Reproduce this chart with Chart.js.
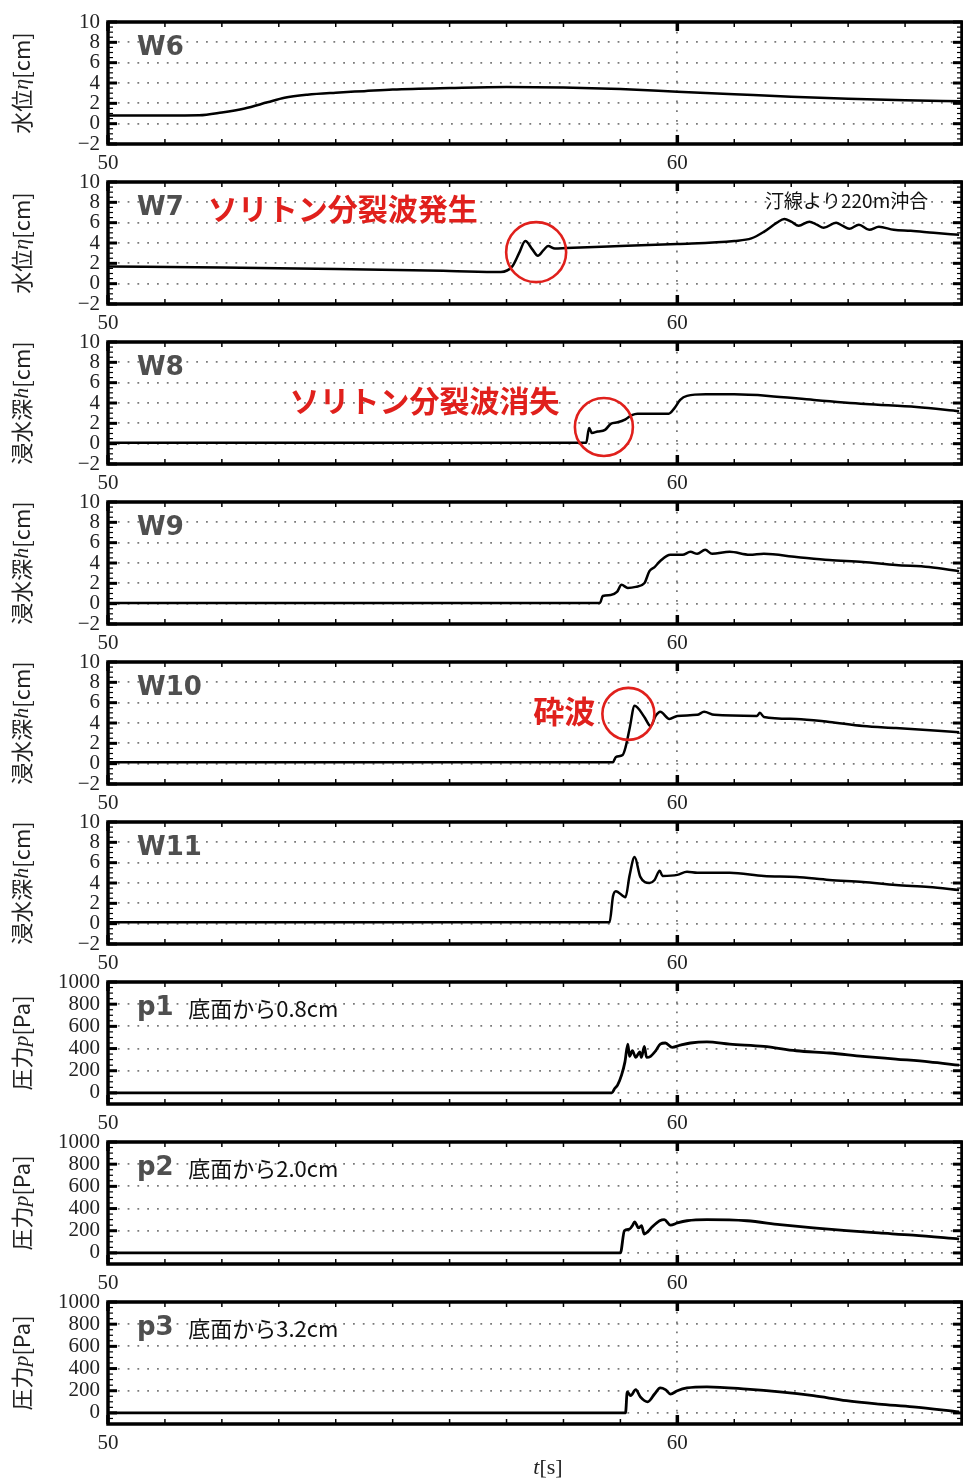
<!DOCTYPE html>
<html>
<head>
<meta charset="utf-8">
<script src="https://cdn.jsdelivr.net/npm/chart.js@4.4.1/dist/chart.umd.min.js"></script>
<style>
  body { margin: 0; background: #fff; width: 963px; height: 1484px; position: relative; overflow: hidden; }
  .panel { position: absolute; left: 0; }
</style>
</head>
<body>
<script>
// time axis [s]
const xTickLabels = [50, 60];
const levelTicks = [-2, 0, 2, 4, 6, 8, 10];
const pressureTicks = [0, 200, 400, 600, 800, 1000];

// water level / inundation depth [cm]
const w6Time = [50, 51, 51.6, 52, 52.4, 52.8, 53.1, 53.5, 54, 54.5, 55, 56, 57, 58, 59, 60, 61, 62, 63, 64, 65];
const w6Level = [0.8, 0.8, 0.82, 1.1, 1.5, 2.1, 2.55, 2.85, 3.05, 3.2, 3.35, 3.5, 3.6, 3.55, 3.4, 3.15, 2.9, 2.65, 2.45, 2.3, 2.2];

const w7Time = [50, 52, 54, 56, 56.9, 57.1, 57.22, 57.33, 57.45, 57.55, 57.65, 57.73, 57.85, 58.05, 59, 60, 61, 61.3, 61.52, 61.75, 61.88, 62.0, 62.13, 62.32, 62.45, 62.57, 62.79, 62.9, 63.02, 63.19, 63.37, 63.54, 63.8, 64.1, 64.5, 64.95];
const w7Level = [1.7, 1.6, 1.45, 1.25, 1.15, 1.7, 3.0, 4.2, 3.4, 2.75, 3.3, 3.7, 3.45, 3.5, 3.7, 3.9, 4.2, 4.45, 5.1, 6.0, 6.35, 6.1, 5.7, 6.1, 5.8, 5.5, 6.0, 5.7, 5.4, 5.8, 5.3, 5.6, 5.3, 5.2, 5.0, 4.8];

const w8Time = [50, 58.4, 58.45, 58.5, 58.6, 58.73, 58.83, 58.95, 59.09, 59.2, 59.3, 59.5, 59.85, 59.95, 60.05, 60.17, 60.5, 61, 61.6, 62.4, 63.3, 64.2, 64.95];
const w8Depth = [0.1, 0.1, 1.55, 1.05, 1.2, 1.35, 1.95, 2.1, 2.4, 2.8, 2.95, 2.95, 2.95, 3.5, 4.3, 4.7, 4.85, 4.85, 4.7, 4.3, 3.9, 3.6, 3.2];

const w9Time = [50, 58.64, 58.69, 58.83, 58.94, 59.02, 59.13, 59.27, 59.42, 59.51, 59.6, 59.7, 59.88, 60.09, 60.23, 60.35, 60.49, 60.61, 60.92, 61.27, 61.52, 62.09, 62.67, 63.26, 63.84, 64.42, 64.95];
const w9Depth = [0.07, 0.07, 0.75, 0.85, 1.15, 1.85, 1.55, 1.65, 2.0, 3.2, 3.6, 4.2, 4.8, 4.8, 5.1, 4.9, 5.3, 4.9, 5.1, 4.8, 4.9, 4.6, 4.3, 4.1, 3.8, 3.6, 3.2];

const w10Time = [50, 58.87, 58.92, 59.04, 59.09, 59.16, 59.25, 59.42, 59.53, 59.62, 59.7, 59.86, 60, 60.35, 60.47, 60.65, 61.4, 61.45, 61.52, 62.09, 62.67, 63.26, 63.84, 64.95];
const w10Depth = [0.15, 0.15, 0.65, 0.85, 1.6, 3.4, 5.7, 4.6, 3.7, 4.7, 5.1, 4.4, 4.7, 4.8, 5.1, 4.8, 4.7, 5.0, 4.6, 4.4, 4.1, 3.7, 3.5, 3.1];

const w11Time = [50, 58.81, 58.87, 58.92, 59.09, 59.16, 59.25, 59.35, 59.51, 59.6, 59.69, 59.74, 60, 60.17, 60.35, 60.92, 61.52, 62.09, 62.67, 63.26, 63.84, 64.42, 64.95];
const w11Depth = [0.15, 0.15, 2.7, 3.2, 2.6, 4.7, 6.55, 4.6, 4.0, 4.3, 5.2, 4.7, 4.8, 5.1, 5.0, 5.0, 4.7, 4.6, 4.3, 4.1, 3.8, 3.6, 3.3];

// pressure [Pa]
const p1Time = [50, 58.85, 58.9, 58.95, 59.02, 59.08, 59.13, 59.16, 59.21, 59.27, 59.34, 59.37, 59.42, 59.46, 59.53, 59.62, 59.7, 59.79, 59.91, 60.05, 60.23, 60.52, 60.92, 61.52, 62.09, 62.67, 63.26, 63.84, 64.42, 64.95];
const p1Pressure = [0, 0, 40, 70, 160, 280, 440, 330, 380, 320, 370, 320, 420, 320, 330, 380, 440, 450, 410, 430, 450, 460, 440, 420, 380, 360, 330, 305, 280, 250];

const p2Time = [50, 59.0, 59.07, 59.16, 59.21, 59.25, 59.32, 59.37, 59.42, 59.48, 59.56, 59.69, 59.77, 59.88, 60, 60.17, 60.52, 61.22, 61.8, 62.39, 62.97, 63.54, 64.14, 64.95];
const p2Pressure = [0, 0, 200, 215, 245, 280, 225, 245, 170, 190, 235, 290, 300, 250, 270, 290, 300, 290, 255, 225, 200, 180, 160, 125];

const p3Time = [50, 59.09, 59.12, 59.18, 59.27, 59.35, 59.48, 59.6, 59.7, 59.79, 59.88, 60, 60.17, 60.52, 61.22, 61.8, 62.39, 62.97, 63.54, 64.14, 64.95];
const p3Pressure = [0, 0, 190, 155, 210, 145, 100, 170, 225, 210, 170, 200, 225, 235, 215, 190, 155, 110, 80, 55, 10];

const jp = '"Noto Sans CJK JP", sans-serif';
const serif = '"Liberation Serif", "DejaVu Serif", serif';
const red = '#e0201c';

const levelTitle = [['水位', '22px ' + jp], ['η', 'italic 22px ' + serif], ['[cm]', '22px ' + jp]];
const depthTitle = [['浸水深', '22px ' + jp], ['h', 'italic 22px ' + serif], ['[cm]', '22px ' + jp]];
const pressTitle = [['圧力', '22px ' + jp], ['p', 'italic 22px ' + serif], ['[Pa]', '22px ' + jp]];

const panels = [
  { name: 'W6', time: w6Time, values: w6Level, kind: 'level', title: levelTitle, notes: [] },
  { name: 'W7', time: w7Time, values: w7Level, kind: 'level', title: levelTitle, notes: [
    { text: 'ソリトン分裂波発生', t: 51.75, v: 7.35, font: 'bold 30px ' + jp, color: red },
    { text: '汀線より220m沖合', t: 61.54, v: 8.2, font: '19px ' + jp, color: '#111' },
    { circle: true, t: 57.52, v: 3.1, r: 30 }
  ] },
  { name: 'W8', time: w8Time, values: w8Depth, kind: 'level', title: depthTitle, notes: [
    { text: 'ソリトン分裂波消失', t: 53.19, v: 4.2, font: 'bold 30px ' + jp, color: red },
    { circle: true, t: 58.71, v: 1.64, r: 29 }
  ] },
  { name: 'W9', time: w9Time, values: w9Depth, kind: 'level', title: depthTitle, notes: [] },
  { name: 'W10', time: w10Time, values: w10Depth, kind: 'level', title: depthTitle, notes: [
    { text: '砕波', t: 57.47, v: 5.2, font: 'bold 31px ' + jp, color: red },
    { circle: true, t: 59.14, v: 4.9, r: 26 }
  ] },
  { name: 'W11', time: w11Time, values: w11Depth, kind: 'level', title: depthTitle, notes: [] },
  { name: 'p1', time: p1Time, values: p1Pressure, kind: 'pressure', title: pressTitle, notes: [
    { text: '底面から0.8cm', t: 51.41, v: 757, font: '22px ' + jp, color: '#111' }
  ] },
  { name: 'p2', time: p2Time, values: p2Pressure, kind: 'pressure', title: pressTitle, notes: [
    { text: '底面から2.0cm', t: 51.41, v: 757, font: '22px ' + jp, color: '#111' }
  ] },
  { name: 'p3', time: p3Time, values: p3Pressure, kind: 'pressure', title: pressTitle, notes: [
    { text: '底面から3.2cm', t: 51.41, v: 757, font: '22px ' + jp, color: '#111' }
  ], xTitle: true }
];

function line(ctx, x1, y1, x2, y2) {
  ctx.beginPath();
  ctx.moveTo(x1, y1);
  ctx.lineTo(x2, y2);
  ctx.stroke();
}

// frame, inward ticks, labels and notes on top of each panel
const panelFrame = {
  id: 'panelFrame',
  afterDraw(chart, args, opts) {
    const { ctx, chartArea: a, scales: { x, y } } = chart;
    ctx.save();
    ctx.strokeStyle = '#000';

    for (let t = x.min; t <= x.max; t += 1) {
      const px = x.getPixelForValue(t);
      const major = xTickLabels.includes(t);
      ctx.lineWidth = major ? 3.5 : 1.5;
      const len = major ? 9 : 5;
      line(ctx, px, a.top, px, a.top + len);
      line(ctx, px, a.bottom, px, a.bottom - len);
    }

    const majors = opts.kind === 'level' ? levelTicks : pressureTicks;
    const minorStep = opts.kind === 'level' ? 0.5 : 50;
    for (let v = y.min; v <= y.max + 1e-9; v += minorStep) {
      const py = y.getPixelForValue(v);
      const major = majors.some(m => Math.abs(m - v) < 1e-6);
      ctx.lineWidth = major ? 3 : 1.2;
      const len = major ? 9 : 5;
      line(ctx, a.left, py, a.left + len, py);
      line(ctx, a.right, py, a.right - len, py);
    }

    ctx.lineWidth = 3.5;
    ctx.strokeRect(a.left, a.top, a.right - a.left, a.bottom - a.top);

    // panel name
    ctx.fillStyle = '#4f4f4f';
    ctx.font = 'bold 26px "DejaVu Sans", sans-serif';
    ctx.textBaseline = 'alphabetic';
    ctx.textAlign = 'left';
    ctx.fillText(opts.name, a.left + 29, a.top + 33);

    // notes
    opts.notes.forEach(n => {
      const px = x.getPixelForValue(n.t);
      const py = y.getPixelForValue(n.v);
      if (n.circle) {
        ctx.strokeStyle = red;
        ctx.lineWidth = 2.6;
        ctx.beginPath();
        ctx.arc(px, py, n.r, 0, Math.PI * 2);
        ctx.stroke();
      } else {
        ctx.fillStyle = n.color;
        ctx.font = n.font;
        ctx.textBaseline = 'middle';
        ctx.fillText(n.text, px, py);
      }
    });

    // y axis title
    const parts = opts.title.map(p => {
      ctx.font = p[1];
      return { text: p[0], font: p[1], w: ctx.measureText(p[0]).width };
    });
    const total = parts.reduce((s, p) => s + p.w, 0);
    ctx.save();
    ctx.translate(22, (a.top + a.bottom) / 2);
    ctx.rotate(-Math.PI / 2);
    ctx.fillStyle = '#222';
    ctx.textBaseline = 'middle';
    let cx = -total / 2;
    parts.forEach(p => {
      ctx.font = p.font;
      ctx.fillText(p.text, cx, 0);
      cx += p.w;
    });
    ctx.restore();

    if (opts.xTitle) {
      const tx = 548;
      const ty = a.bottom + 44;
      ctx.fillStyle = '#222';
      ctx.textBaseline = 'middle';
      ctx.font = 'italic 22px ' + serif;
      const tw = ctx.measureText('t').width;
      ctx.font = '22px ' + serif;
      const bw = ctx.measureText('[s]').width;
      ctx.font = 'italic 22px ' + serif;
      ctx.fillText('t', tx - (tw + bw) / 2, ty);
      ctx.font = '22px ' + serif;
      ctx.fillText('[s]', tx - (tw + bw) / 2 + tw, ty);
    }
    ctx.restore();
  }
};

const gridColor = '#7a7a7a';

panels.forEach((p, i) => {
  const h = i === panels.length - 1 ? 204 : 185;
  const box = document.createElement('div');
  box.className = 'panel';
  box.style.top = (i * 160) + 'px';
  const canvas = document.createElement('canvas');
  canvas.width = 963;
  canvas.height = h;
  canvas.style.width = '963px';
  canvas.style.height = h + 'px';
  box.appendChild(canvas);
  document.body.appendChild(box);

  const isLevel = p.kind === 'level';
  const yTicks = isLevel ? levelTicks : pressureTicks;

  new Chart(canvas, {
    type: 'line',
    data: {
      datasets: [{
        data: p.time.map((t, k) => ({ x: t, y: p.values[k] })),
        borderColor: '#000',
        borderWidth: isLevel ? 2.5 : 2.8,
        pointRadius: 0,
        cubicInterpolationMode: 'monotone',
        fill: false
      }]
    },
    options: {
      responsive: false,
      animation: false,
      devicePixelRatio: 1,
      layout: { padding: { top: 22, right: 1, left: 0, bottom: 0 } },
      plugins: {
        legend: { display: false },
        tooltip: { enabled: false },
        panelFrame: { name: p.name, kind: p.kind, title: p.title, notes: p.notes, xTitle: !!p.xTitle }
      },
      scales: {
        x: {
          type: 'linear',
          min: 50,
          max: 65,
          afterBuildTicks: s => { s.ticks = xTickLabels.map(v => ({ value: v })); },
          afterFit: s => { s.height = h - 144; },
          ticks: {
            padding: 7,
            autoSkip: false,
            maxRotation: 0,
            color: '#222',
            font: { family: serif, size: 21 }
          },
          grid: {
            drawTicks: false,
            lineWidth: 1.8,
            color: c => (c.tick && c.tick.value === 60) ? gridColor : 'transparent'
          },
          border: { display: false, dash: [1.8, 8] }
        },
        y: {
          min: isLevel ? -2 : -100,
          max: isLevel ? 10 : 1000,
          afterBuildTicks: s => { s.ticks = yTicks.map(v => ({ value: v })); },
          afterFit: s => { s.width = 108; },
          ticks: {
            padding: 8,
            autoSkip: false,
            color: '#222',
            font: { family: serif, size: 21, lineHeight: 1 },
            callback: v => v < 0 ? '\u2212' + (-v) : String(v)
          },
          grid: {
            drawTicks: false,
            lineWidth: 1.8,
            color: c => (c.tick && (c.tick.value === yTicks[yTicks.length - 1] || c.tick.value === -2)) ? 'transparent' : gridColor
          },
          border: { display: false, dash: [1.8, 8] }
        }
      }
    },
    plugins: [panelFrame]
  });
});
</script>
</body>
</html>
